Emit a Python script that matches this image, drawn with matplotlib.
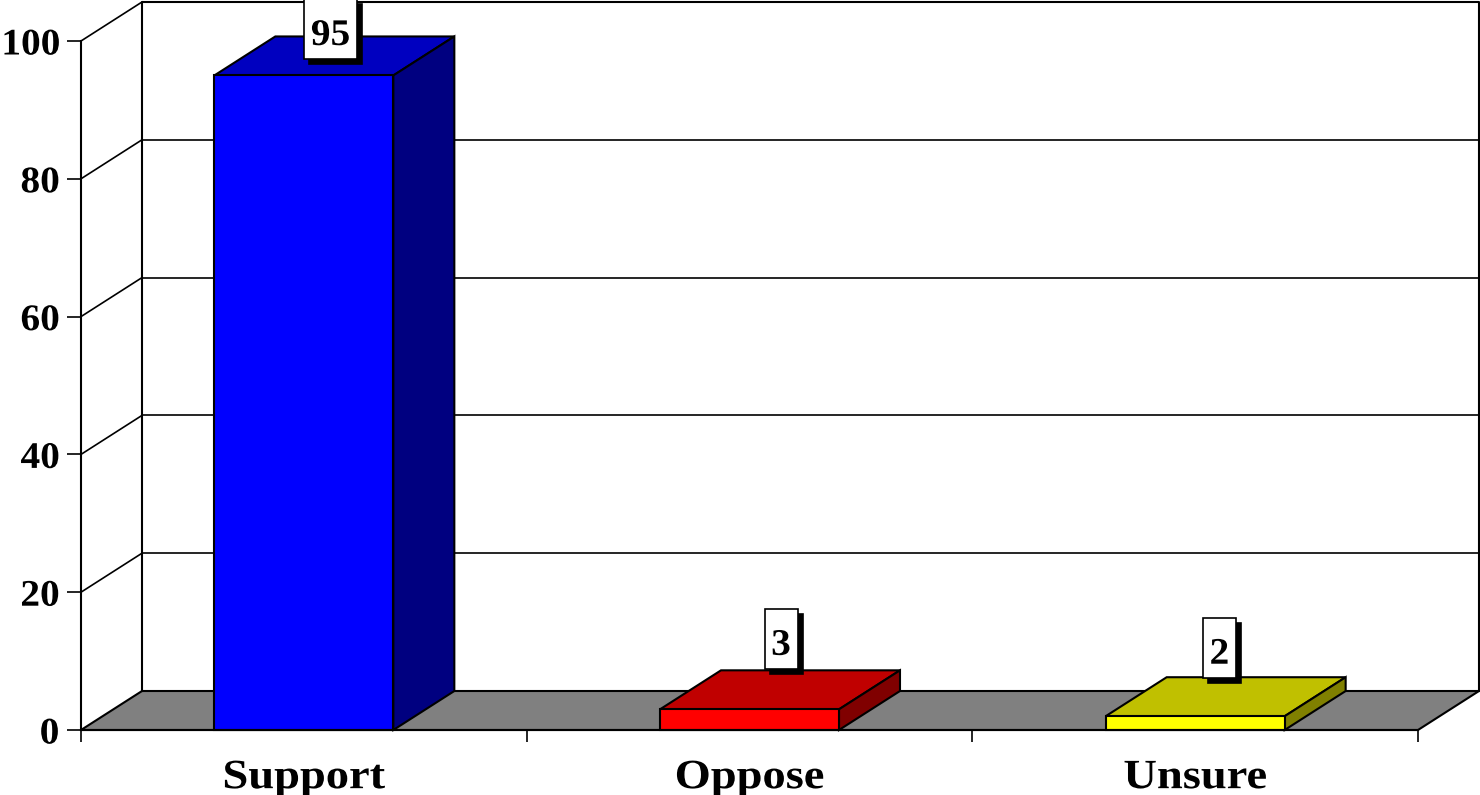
import matplotlib
matplotlib.use('Agg')
import matplotlib.pyplot as plt
import matplotlib.patheffects as pe
from matplotlib.patches import Polygon, Rectangle
from matplotlib.transforms import Affine2D

categories = ['Support', 'Oppose', 'Unsure']
values = [95, 3, 2]
value_labels = ['95', '3', '2']
y_ticks = [0, 20, 40, 60, 80, 100]

front_colors = ['#0000FF', '#FF0000', '#FFFF00']
top_colors = ['#0000C0', '#C00000', '#C0C000']
side_colors = ['#000080', '#800000', '#808000']

plt.rcParams['font.family'] = ['Liberation Serif', 'DejaVu Serif']
plt.rcParams['font.weight'] = 'bold'

W, H = 1480, 795
LW = 1.5


# the original text is wider than Liberation Serif, stretch it around its centre
class Stretch(pe.AbstractPathEffect):
    def __init__(self, sx):
        super().__init__()
        self.sx = sx

    def draw_path(self, renderer, gc, tpath, affine, rgbFace=None):
        ext = tpath.get_extents()
        cx = (ext.x0 + ext.x1) / 2
        t = Affine2D().translate(-cx, 0).scale(self.sx, 1).translate(cx, 0)
        renderer.draw_path(gc, tpath, t + affine, rgbFace)


fig = plt.figure(figsize=(W / 100, H / 100), dpi=100, facecolor='white')
# axes = front plane of the 3d box, everything else is drawn outside it
ax = fig.add_axes([81 / W, (H - 730) / H, 1337 / W, 689 / H])
ax.set_xlim(0, 3)
ax.set_ylim(0, 100)
ax.patch.set_visible(False)

# pixel sizes in data units
px_x = 3 / 1337
px_y = 100 / 689
dx = 61 * px_x
dy = 39 * px_y
bar_w = 179 * px_x
top_back = 100 + dy

# floor
ax.add_patch(Polygon([(0, 0), (3, 0), (3 + dx, dy), (dx, dy)], closed=True, fc='#808080',
                     ec='black', lw=LW, clip_on=False, zorder=1))
# back wall and gridlines
ax.plot([dx, dx, 3 + dx, 3 + dx], [dy, top_back, top_back, dy], color='black', lw=LW,
        clip_on=False, zorder=1)
for t in y_ticks[1:]:
    ax.plot([0, dx], [t, t + dy], color='black', lw=1.2, clip_on=False, zorder=1)
    if t < 100:
        ax.plot([dx, 3 + dx], [t + dy, t + dy], color='black', lw=1.2, clip_on=False, zorder=1)

# bars
centers = [i + 0.5 for i in range(len(values))]
ax.bar(centers, values, width=bar_w, color=front_colors, edgecolor='black', linewidth=LW,
       zorder=3, clip_on=False)
for c, v, tc, sc in zip(centers, values, top_colors, side_colors):
    l, r = c - bar_w / 2, c + bar_w / 2
    ax.add_patch(Polygon([(l, v), (r, v), (r + dx, v + dy), (l + dx, v + dy)], closed=True,
                         fc=tc, ec='black', lw=LW, clip_on=False, zorder=2))
    ax.add_patch(Polygon([(r, 0), (r + dx, dy), (r + dx, v + dy), (r, v)], closed=True,
                         fc=sc, ec='black', lw=LW, clip_on=False, zorder=2))

# data labels, white box with hard shadow
label_dx = [26.7, 31.5, 24.3]
label_up = [16, 40, 38]
label_w = [53, 33, 33]
label_h = 60
for c, v, s, ox, up, w in zip(centers, values, value_labels, label_dx, label_up, label_w):
    x0 = c + (ox - w / 2) * px_x
    y0 = v + up * px_y
    ax.add_patch(Rectangle((x0 + 5 * px_x, y0 - 5 * px_y), w * px_x, label_h * px_y, fc='black',
                           ec='black', lw=1.2, clip_on=False, zorder=4))
    ax.add_patch(Rectangle((x0, y0), w * px_x, label_h * px_y, fc='white', ec='black', lw=1.2,
                           clip_on=False, zorder=5))
    ax.text(x0 + w * px_x / 2, y0 + 24 * px_y, s, ha='center', va='center', fontsize=27,
            fontweight='bold', zorder=6, clip_on=False, path_effects=[Stretch(1.05)])

# axes
for sp in ['top', 'right']:
    ax.spines[sp].set_visible(False)
for sp in ['left', 'bottom']:
    ax.spines[sp].set_linewidth(LW)
    ax.spines[sp].set_zorder(3.5)
ax.set_yticks(y_ticks)
ax.tick_params(axis='y', length=10, width=1.2, pad=6, labelsize=27)
for lab in ax.get_yticklabels():
    lab.set_path_effects([Stretch(1.05)])
ax.set_xticks([0, 1, 2, 3])
ax.set_xticklabels([])
ax.tick_params(axis='x', which='major', length=8.5, width=1.2)
ax.set_xticks(centers, minor=True)
ax.set_xticklabels(categories, minor=True, fontsize=30, fontweight='bold')
ax.tick_params(axis='x', which='minor', length=0, pad=21)
for lab in ax.get_xticklabels(minor=True):
    lab.set_path_effects([Stretch(1.115)])

fig.savefig('out.png', dpi=100)
